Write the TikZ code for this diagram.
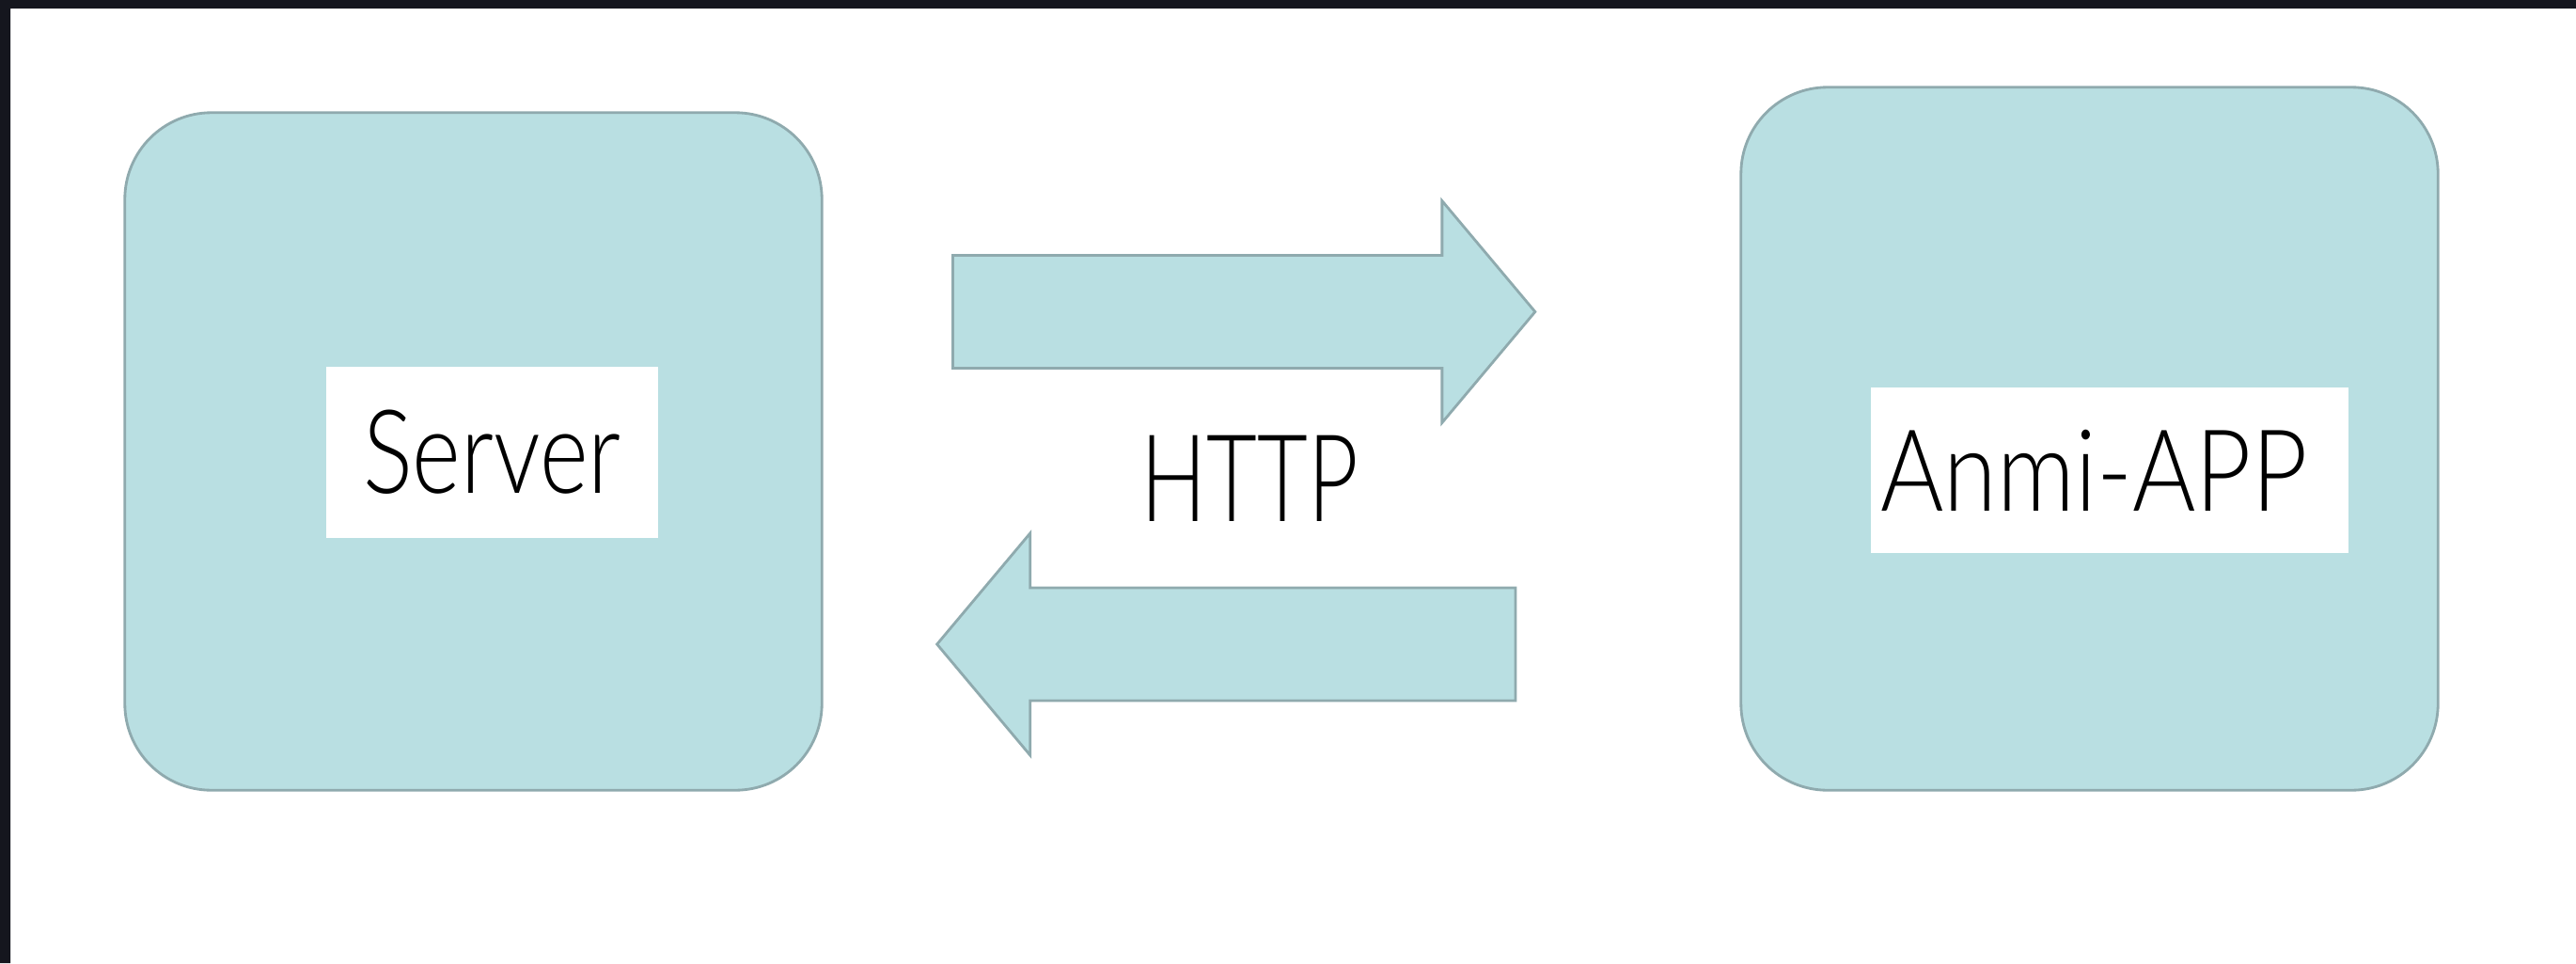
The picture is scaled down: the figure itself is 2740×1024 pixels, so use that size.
\documentclass[tikz,border=0pt]{standalone}
\usepackage{fontspec}
\setmainfont{Lato Light}
\newfontfamily\serverfont{Lato Light}[FakeStretch=0.80]
\newfontfamily\appfont{Lato Light}[FakeStretch=0.85]
\newfontfamily\httpfont{Lato Light}[FakeStretch=0.72]
\usetikzlibrary{shapes.arrows}

\definecolor{boxfill}{HTML}{B9DFE2}
\definecolor{boxline}{HTML}{8FAAAE}
\definecolor{frame}{HTML}{15161E}

\begin{document}
\begin{tikzpicture}[x=0.01cm,y=-0.01cm]
\tikzset{Block/.style = {rectangle, rounded corners=0.92cm, draw=boxline, fill=boxfill, line width=0.8pt, minimum width=7.41cm},
  Label/.style = {rectangle, fill=white, inner sep=0pt},
  Flow/.style = {single arrow, draw=boxline, fill=boxfill, line width=0.8pt, inner sep=0pt, text height=0.585cm, text depth=0.585cm, minimum width=2.33cm, single arrow head extend=0.58cm, single arrow tip angle=100}}
\useasboundingbox (0,0) rectangle (2740,1024);
\fill[white] (0,0) rectangle (2740,1024);
\fill[frame] (0,0) rectangle (2740,9) (0,0) rectangle (11,1024);
\node[Block, minimum height=7.2cm] (server) at (503.5,480) {};
\node[Block, minimum height=7.47cm] (app) at (2222.5,466.5) {};
\node[Label, minimum width=3.53cm, minimum height=1.82cm, font=\fontsize{35.2}{40}\selectfont] (serverlbl) at (523.5,481) {\serverfont Server};
\node[Label, minimum width=5.08cm, minimum height=1.76cm, font=\fontsize{34.4}{40}\selectfont] (applbl) at (2244,500) {\appfont Anmi-APP\hspace*{0.33cm}};
\node[Flow, minimum height=6.19cm] (req) at (1298,331.5) {};
\node[Flow, minimum height=6.15cm, shape border rotate=180] (resp) at (1329.5,685) {};
\node[font=\fontsize{36.7}{42}\selectfont] (http) at (1329.5,508.5) {\httpfont HTTP};
\end{tikzpicture}
\end{document}
